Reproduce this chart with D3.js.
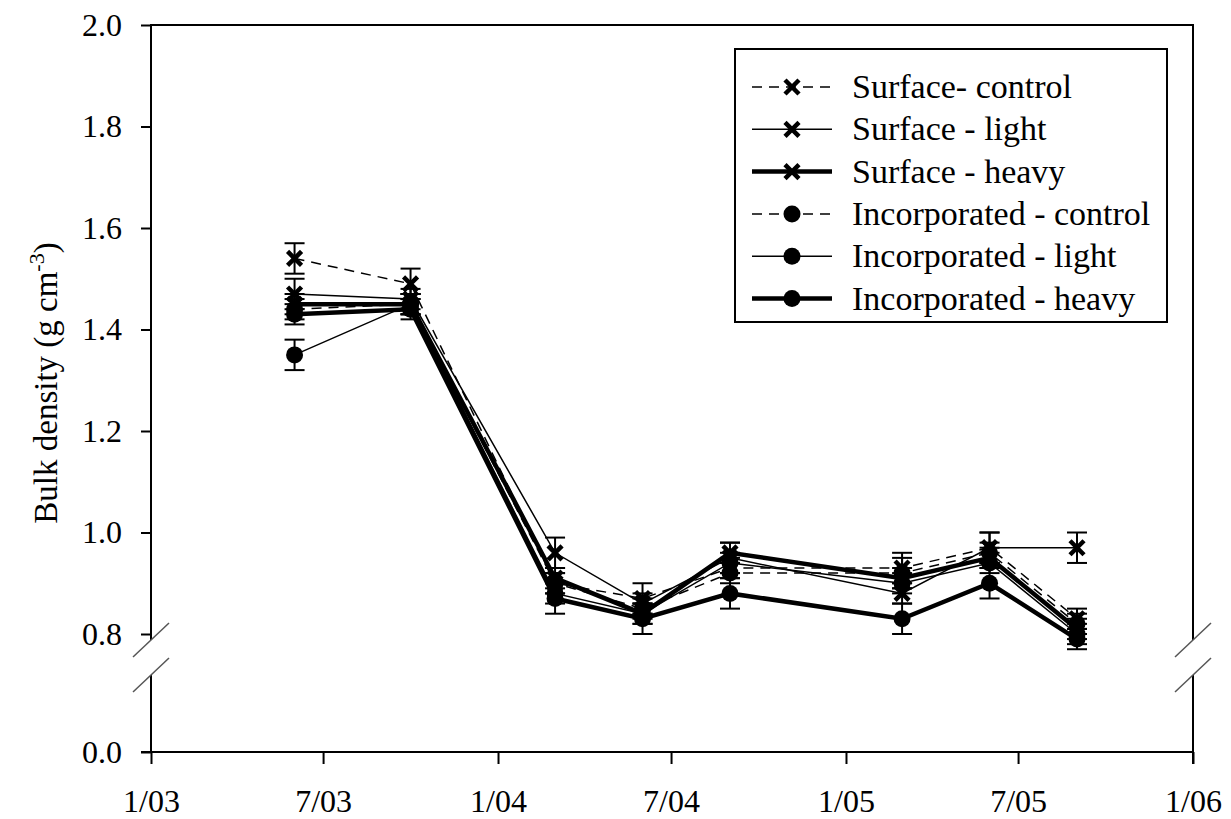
<!DOCTYPE html>
<html>
<head>
<meta charset="utf-8">
<script src="https://cdn.jsdelivr.net/npm/d3@7"></script>
<style>
  body { margin: 0; background: #fff; }
  svg { display: block; }
  text { font-family: "Liberation Serif", "Times New Roman", serif; fill: #000; }
</style>
</head>
<body>
<svg id="chart" width="1231" height="819"></svg>
<script>
// sampling dates
var dates = ["2003-06-01", "2003-10-01", "2004-03-01", "2004-06-01",
             "2004-09-01", "2005-03-01", "2005-06-01", "2005-09-01"];

var seriesNames = ["Surface- control", "Surface - light", "Surface - heavy",
                   "Incorporated - control", "Incorporated - light", "Incorporated - heavy"];

// bulk density values (g cm-3)
var surfaceControl  = [1.54, 1.49, 0.90, 0.87, 0.93, 0.93, 0.97, 0.83];
var surfaceLight    = [1.47, 1.46, 0.96, 0.86, 0.95, 0.88, 0.97, 0.97];
var surfaceHeavy    = [1.45, 1.45, 0.91, 0.84, 0.96, 0.91, 0.95, 0.81];
var incorpControl   = [1.44, 1.45, 0.90, 0.85, 0.92, 0.92, 0.96, 0.82];
var incorpLight     = [1.35, 1.45, 0.88, 0.84, 0.94, 0.90, 0.94, 0.80];
var incorpHeavy     = [1.43, 1.44, 0.87, 0.83, 0.88, 0.83, 0.90, 0.79];

// standard errors
var surfaceControlErr = [0.03, 0.03, 0.02, 0.03, 0.02, 0.03, 0.03, 0.02];
var surfaceLightErr   = [0.03, 0.02, 0.03, 0.02, 0.03, 0.02, 0.03, 0.03];
var surfaceHeavyErr   = [0.02, 0.02, 0.02, 0.02, 0.02, 0.02, 0.02, 0.02];
var incorpControlErr  = [0.02, 0.02, 0.02, 0.02, 0.02, 0.03, 0.02, 0.02];
var incorpLightErr    = [0.03, 0.02, 0.02, 0.02, 0.02, 0.02, 0.02, 0.02];
var incorpHeavyErr    = [0.02, 0.02, 0.03, 0.03, 0.03, 0.03, 0.03, 0.02];

var xTickLabels = ["1/03", "7/03", "1/04", "7/04", "1/05", "7/05", "1/06"];
var xTickDates  = ["2003-01-01", "2003-07-01", "2004-01-01", "2004-07-01",
                   "2005-01-01", "2005-07-01", "2006-01-01"];
var yTicksUpper = [0.8, 1.0, 1.2, 1.4, 1.6, 1.8, 2.0];

var styles = [
  { dash: "10,7", width: 1.5, marker: "x" },
  { dash: null,   width: 1.5, marker: "x" },
  { dash: null,   width: 4.5, marker: "x" },
  { dash: "10,7", width: 1.5, marker: "o" },
  { dash: null,   width: 1.5, marker: "o" },
  { dash: null,   width: 4.5, marker: "o" }
];

var values = [surfaceControl, surfaceLight, surfaceHeavy, incorpControl, incorpLight, incorpHeavy];
var errors = [surfaceControlErr, surfaceLightErr, surfaceHeavyErr, incorpControlErr, incorpLightErr, incorpHeavyErr];

var parse = d3.timeParse("%Y-%m-%d");
var svg = d3.select("#chart");

var plotLeft = 151, plotRight = 1193, plotTop = 25, plotBottom = 752;
var breakTop = 640, breakBottom = 675;

var x = d3.scaleTime()
  .domain([parse("2003-01-01"), parse("2006-01-01")])
  .range([plotLeft, plotRight]);
var y = d3.scaleLinear().domain([0.8, 2.0]).range([634, plotTop]);
var yLow = d3.scaleLinear().domain([0, 0.15]).range([plotBottom, breakBottom]);

var series = seriesNames.map(function(name, i) {
  return {
    name: name,
    style: styles[i],
    points: dates.map(function(d, j) {
      return { date: parse(d), v: values[i][j], e: errors[i][j] };
    })
  };
});

// frame
var frame = svg.append("g").attr("stroke", "#000").attr("stroke-width", 2);
frame.append("line").attr("x1", plotLeft).attr("x2", plotRight).attr("y1", plotTop).attr("y2", plotTop);
frame.append("line").attr("x1", plotLeft).attr("x2", plotLeft).attr("y1", plotTop - 1).attr("y2", breakTop);
frame.append("line").attr("x1", plotLeft).attr("x2", plotLeft).attr("y1", breakBottom).attr("y2", plotBottom);
frame.append("line").attr("x1", plotRight).attr("x2", plotRight).attr("y1", plotTop - 1).attr("y2", breakTop);
frame.append("line").attr("x1", plotRight).attr("x2", plotRight).attr("y1", breakBottom).attr("y2", plotBottom + 12);

// break slashes
[plotLeft, plotRight].forEach(function(ax) {
  [breakTop, breakBottom].forEach(function(by) {
    svg.append("line")
      .attr("x1", ax - 18).attr("y1", by + 17)
      .attr("x2", ax + 18).attr("y2", by - 17)
      .attr("stroke", "#555").attr("stroke-width", 1.5);
  });
});

// axes
var yAxis = svg.append("g")
  .attr("transform", "translate(" + plotLeft + ",0)")
  .call(d3.axisLeft(y).tickValues(yTicksUpper).tickFormat(d3.format(".1f"))
    .tickSize(10).tickPadding(19));
var yAxisLow = svg.append("g")
  .attr("transform", "translate(" + plotLeft + ",0)")
  .call(d3.axisLeft(yLow).tickValues([0]).tickFormat(d3.format(".1f"))
    .tickSize(10).tickPadding(19));
var xAxis = svg.append("g")
  .attr("transform", "translate(0," + plotBottom + ")")
  .call(d3.axisBottom(x).tickValues(xTickDates.map(parse))
    .tickFormat(function(d, i) { return xTickLabels[i]; })
    .tickSize(12));

[yAxis, yAxisLow, xAxis].forEach(function(g) {
  g.select(".domain").remove();
  g.selectAll(".tick line").attr("stroke", "#000").attr("stroke-width", 2);
  g.selectAll(".tick text").attr("font-size", 32).attr("font-family", "Liberation Serif");
});
xAxis.selectAll(".tick text").attr("y", 60).attr("dy", 0);
xAxis.append("line").attr("x1", plotLeft - 10).attr("x2", plotRight).attr("y1", 0).attr("y2", 0)
  .attr("stroke", "#000").attr("stroke-width", 2);

// y axis title
var title = svg.append("text")
  .attr("transform", "translate(57,383) rotate(-90)")
  .attr("text-anchor", "middle")
  .attr("font-size", 33);
title.append("tspan").text("Bulk density (g cm");
title.append("tspan").attr("font-size", 22).attr("dy", -13).text("-3");
title.append("tspan").attr("dy", 13).text(")");

// lines
var line = d3.line()
  .x(function(d) { return x(d.date); })
  .y(function(d) { return y(d.v); });

var plot = svg.append("g");
series.forEach(function(s) {
  plot.append("path")
    .datum(s.points)
    .attr("d", line)
    .attr("fill", "none")
    .attr("stroke", "#000")
    .attr("stroke-width", s.style.width)
    .attr("stroke-dasharray", s.style.dash);
});

// error bars
series.forEach(function(s) {
  var eb = plot.append("g").attr("stroke", "#000").attr("stroke-width", 2);
  var g = eb.selectAll("g").data(s.points).enter().append("g");
  g.append("line")
    .attr("x1", function(d) { return x(d.date); })
    .attr("x2", function(d) { return x(d.date); })
    .attr("y1", function(d) { return y(d.v - d.e); })
    .attr("y2", function(d) { return y(d.v + d.e); });
  g.append("line")
    .attr("x1", function(d) { return x(d.date) - 10; })
    .attr("x2", function(d) { return x(d.date) + 10; })
    .attr("y1", function(d) { return y(d.v + d.e); })
    .attr("y2", function(d) { return y(d.v + d.e); });
  g.append("line")
    .attr("x1", function(d) { return x(d.date) - 10; })
    .attr("x2", function(d) { return x(d.date) + 10; })
    .attr("y1", function(d) { return y(d.v - d.e); })
    .attr("y2", function(d) { return y(d.v - d.e); });
});

function drawMarker(g, type, cx, cy) {
  if (type === "o") {
    g.append("circle").attr("cx", cx).attr("cy", cy).attr("r", 8.5).attr("fill", "#000");
  } else {
    g.append("path")
      .attr("d", "M" + (cx - 7) + "," + (cy - 7) + "L" + (cx + 7) + "," + (cy + 7) +
                 "M" + (cx - 7) + "," + (cy + 7) + "L" + (cx + 7) + "," + (cy - 7))
      .attr("stroke", "#000").attr("stroke-width", 4.5).attr("fill", "none");
  }
}

// markers
series.forEach(function(s) {
  var mg = plot.append("g");
  s.points.forEach(function(d) {
    drawMarker(mg, s.style.marker, x(d.date), y(d.v));
  });
});

// legend
var legend = svg.append("g");
legend.append("rect")
  .attr("x", 735).attr("y", 49).attr("width", 432).attr("height", 273)
  .attr("fill", "#fff").attr("stroke", "#000").attr("stroke-width", 2);
series.forEach(function(s, i) {
  var ly = 87 + i * 42.3;
  legend.append("line")
    .attr("x1", 752).attr("x2", 832).attr("y1", ly).attr("y2", ly)
    .attr("stroke", "#000")
    .attr("stroke-width", s.style.width)
    .attr("stroke-dasharray", s.style.dash);
  drawMarker(legend, s.style.marker, 792, ly);
  legend.append("text")
    .attr("x", 852).attr("y", ly + 11)
    .attr("font-size", 34)
    .text(s.name);
});
</script>
</body>
</html>
